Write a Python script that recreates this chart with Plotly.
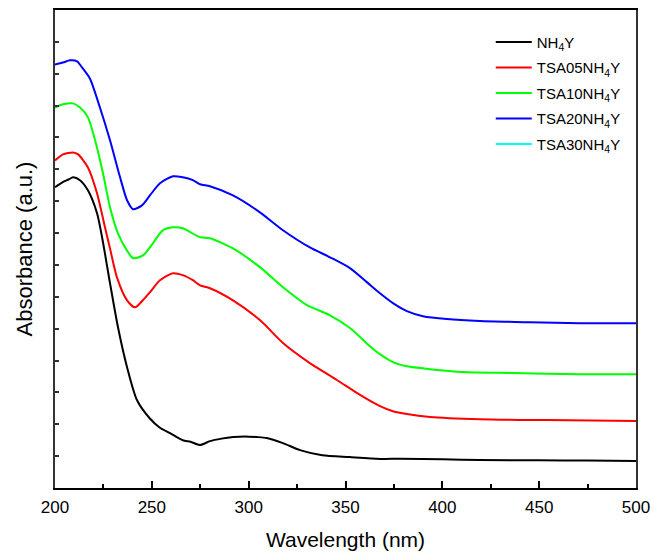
import plotly.graph_objects as go

# NH4Y (black)
wl_nh4y = [200, 204, 207, 209.3, 212.9, 217, 221.7, 224.3, 228.4, 232.5, 237.2, 242.3, 249, 254,
           259.4, 266, 270, 274.9, 280, 286, 292, 298, 304, 309.4, 317.7, 326.5, 338, 352, 367.8,
           378, 400, 419.4, 450, 475, 500]
abs_nh4y = [9.44, 9.6, 9.68, 9.75, 9.66, 9.34, 8.62, 7.87, 6.43, 5.05, 3.79, 2.76, 2.18, 1.9,
            1.72, 1.50, 1.45, 1.35, 1.47, 1.55, 1.60, 1.62, 1.60, 1.57, 1.41, 1.19, 1.03, 0.97, 0.91,
            0.92, 0.90, 0.88, 0.87, 0.86, 0.85]

# TSA05NH4Y (red)
wl_tsa05 = [200, 204.1, 209.3, 211.9, 217, 221.7, 225.8, 228.4, 232, 237.2, 241.3, 245.4, 249,
            254.2, 260.9, 266, 271.2, 274.9, 280, 291.9, 305.8, 317.7, 331.6, 345.6, 357.5, 367.8,
            374.5, 381.7, 393.6, 419.4, 454, 500]
abs_tsa05 = [10.28, 10.47, 10.53, 10.47, 10.06, 9.25, 8.18, 7.52, 6.61, 5.89, 5.67, 5.89, 6.14,
             6.52, 6.74, 6.68, 6.52, 6.36, 6.27, 5.89, 5.27, 4.55, 3.92, 3.39, 2.92, 2.57,
             2.41, 2.32, 2.23, 2.16, 2.13, 2.10]

# TSA10NH4Y (green)
wl_tsa10 = [200, 204.1, 209.3, 212.9, 217, 220.7, 224.8, 228.4, 232.5, 237.2, 240.3, 245.4, 249,
            255.8, 260.9, 266, 274.9, 280, 291.9, 305.8, 317.7, 330.1, 342, 352.3, 362.6, 367.8,
            374.5, 381.7, 393.6, 410.6, 436.4, 471, 500]
abs_tsa10 = [11.94, 12.04, 12.07, 11.94, 11.63, 10.91, 9.87, 8.81, 7.99, 7.45, 7.21, 7.3, 7.55,
             8.09, 8.18, 8.15, 7.87, 7.84, 7.52, 6.93, 6.30, 5.74, 5.42, 5.02, 4.45, 4.2,
             3.95, 3.82, 3.73, 3.64, 3.61, 3.57, 3.57]

# TSA20NH4Y (blue)
wl_tsa20 = [200, 204.1, 207.7, 211.4, 213.9, 218, 223.2, 228.4, 233.6, 237.2, 240.3, 244.9, 249,
            254.2, 260.9, 266, 271.2, 274.9, 280, 291.9, 305.8, 317.7, 331.6, 342, 352.3, 361,
            367.8, 374.5, 381.7, 390, 402.4, 419.4, 445.2, 471, 500]
abs_tsa20 = [13.29, 13.35, 13.42, 13.39, 13.20, 12.85, 11.94, 10.91, 9.75, 9.03, 8.75, 8.87, 9.18,
             9.56, 9.78, 9.75, 9.66, 9.53, 9.47, 9.18, 8.65, 8.09, 7.55, 7.24, 6.90, 6.46,
             6.11, 5.80, 5.55, 5.39, 5.30, 5.24, 5.20, 5.17, 5.17]

names = ["NH<sub>4</sub>Y", "TSA05NH<sub>4</sub>Y", "TSA10NH<sub>4</sub>Y",
         "TSA20NH<sub>4</sub>Y", "TSA30NH<sub>4</sub>Y"]
colors = ["#000000", "#ff0000", "#00ff00", "#0000ff", "#00ffff"]

series = [(wl_nh4y, abs_nh4y), (wl_tsa05, abs_tsa05), (wl_tsa10, abs_tsa10),
          (wl_tsa20, abs_tsa20), ([None], [None])]

FONT = "Arial, Liberation Sans, Helvetica, sans-serif"

fig = go.Figure()
for i, ((x, y), n, c) in enumerate(zip(series, names, colors)):
    fig.add_trace(go.Scatter(x=x, y=y, mode="lines", name=n, legendgroup=f"g{i}",
                             line=dict(color=c, width=2, shape="spline", smoothing=0.7)))

fig.update_layout(
    width=651, height=553,
    margin=dict(l=55, r=15, t=10, b=65),
    plot_bgcolor="white", paper_bgcolor="white",
    font=dict(family=FONT, color="black", size=16),
    legend=dict(x=0.750, y=0.967, xanchor="left", yanchor="top",
                bgcolor="rgba(0,0,0,0)", font=dict(size=15, family=FONT),
                tracegroupgap=3, itemwidth=36),
    showlegend=True,
)
fig.update_xaxes(
    range=[200, 500], dtick=50, tick0=200,
    ticks="inside", ticklen=7, tickwidth=1.5, tickcolor="black",
    minor=dict(dtick=25, ticks="inside", ticklen=4, tickwidth=1.5, tickcolor="black"),
    showline=True, linecolor="black", linewidth=2, mirror=True,
    showgrid=False, zeroline=False, automargin=False,
    tickfont=dict(size=17, family=FONT), ticklabelstandoff=3,
    title=dict(text="Wavelength (nm)", font=dict(size=21, family=FONT), standoff=16),
)
fig.update_yaxes(
    range=[0, 15], dtick=1, tick0=0,
    ticks="inside", ticklen=4, tickwidth=1.5, tickcolor="#333333",
    showticklabels=False,
    showline=True, linecolor="#333333", linewidth=2, mirror=True,
    showgrid=False, zeroline=False, automargin=False,
    title=dict(text="Absorbance (a.u.)", font=dict(size=22, family=FONT), standoff=14),
)

fig.write_html("out.html", config={"displayModeBar": False},
               post_script="document.body.style.margin='0';document.body.style.overflow='hidden';")
